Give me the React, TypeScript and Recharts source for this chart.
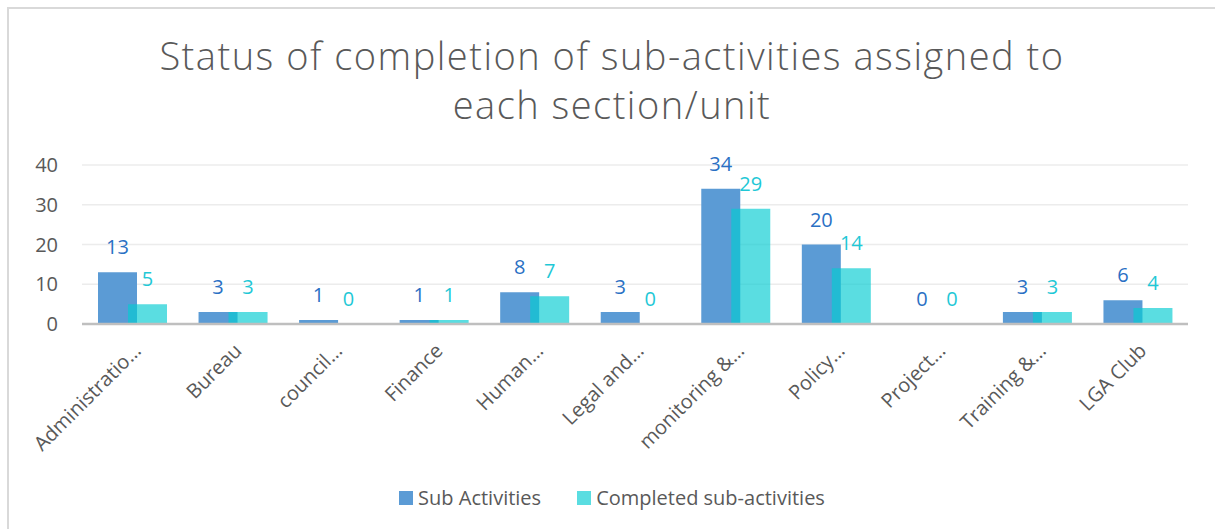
import React from "react";
import {
  BarChart,
  Bar,
  XAxis,
  YAxis,
  CartesianGrid,
  Legend,
  LabelList,
} from "recharts";

// Section names as they appear (Excel truncated the long ones)
const sections = [
  "Administratio…",
  "Bureau",
  "council…",
  "Finance",
  "Human…",
  "Legal and…",
  "monitoring &…",
  "Policy…",
  "Project…",
  "Training &…",
  "LGA Club",
];
const subActivities = [13, 3, 1, 1, 8, 3, 34, 20, 0, 3, 6];
const completed = [5, 3, 0, 1, 7, 0, 29, 14, 0, 3, 4];
const yTicks = [0, 10, 20, 30, 40];

const FONT = "'Open Sans', sans-serif";
const BLUE = "#5b9bd5";
const CYAN = "#05ccd2";
const TEXT = "#595959";

const chartData = sections.map((name, i) => ({
  name,
  sub: subActivities[i],
  done: completed[i],
}));

function LegendBox() {
  const items = [
    { label: "Sub Activities", color: BLUE, opacity: 1 },
    { label: "Completed sub-activities", color: CYAN, opacity: 0.66 },
  ];
  return (
    <div
      style={{
        display: "flex",
        justifyContent: "center",
        gap: 36,
        fontFamily: FONT,
        fontSize: 20,
        color: TEXT,
      }}
    >
      {items.map((it) => (
        <div key={it.label} style={{ display: "flex", alignItems: "center" }}>
          <span
            style={{
              display: "inline-block",
              width: 14,
              height: 14,
              background: it.color,
              opacity: it.opacity,
              marginRight: 5,
            }}
          />
          <span>{it.label}</span>
        </div>
      ))}
    </div>
  );
}

export default function App() {
  return (
    <div
      style={{
        position: "absolute",
        left: 0,
        top: 0,
        width: 1215,
        height: 529,
        background: "#fff",
        overflow: "hidden",
      }}
    >
      <div
        style={{
          position: "absolute",
          left: 7,
          top: 7,
          width: 1208,
          height: 522,
          borderLeft: "2px solid #d9d9d9",
          borderTop: "2px solid #d9d9d9",
          boxSizing: "border-box",
        }}
      />
      <div
        style={{
          position: "absolute",
          left: 0,
          top: 31,
          width: 1224,
          textAlign: "center",
          fontFamily: FONT,
          fontWeight: 300,
          fontSize: 38,
          letterSpacing: 1.5,
          lineHeight: "49px",
          color: TEXT,
        }}
      >
        Status of completion of sub-activities assigned to
        <br />
        each section/unit
      </div>
      <BarChart
        width={1215}
        height={529}
        data={chartData}
        margin={{ top: 165, right: 27, left: 32, bottom: 0 }}
        barSize={39}
        barGap={-9}
        style={{ position: "absolute", left: 0, top: 0 }}
      >
        <CartesianGrid
          vertical={false}
          stroke="#ececec"
          strokeWidth={1.5}
        />
        <XAxis
          dataKey="name"
          interval={0}
          angle={-45}
          textAnchor="end"
          tickLine={false}
          tickMargin={12}
          axisLine={{ stroke: "#bfbfbf", strokeWidth: 2.5 }}
          tick={{ fill: TEXT, fontSize: 20, fontFamily: FONT }}
          height={178}
        />
        <YAxis
          domain={[0, 40]}
          ticks={yTicks}
          width={50}
          axisLine={false}
          tickLine={false}
          tickMargin={18}
          tick={{ fill: TEXT, fontSize: 20, fontFamily: FONT }}
        />
        <Legend
          verticalAlign="bottom"
          wrapperStyle={{ top: 484, left: 0, width: 1224 }}
          content={() => <LegendBox />}
        />
        <Bar
          dataKey="sub"
          fill={BLUE}
          minPointSize={0.5}
          isAnimationActive={false}
        >
          <LabelList
            dataKey="sub"
            position="top"
            offset={18}
            fill="#2a70c4"
            fontSize={20}
            fontFamily={FONT}
          />
        </Bar>
        <Bar
          dataKey="done"
          fill={CYAN}
          fillOpacity={0.66}
          minPointSize={0.5}
          isAnimationActive={false}
        >
          <LabelList
            dataKey="done"
            position="top"
            offset={18}
            fill="#1fc8d6"
            fontSize={20}
            fontFamily={FONT}
          />
        </Bar>
      </BarChart>
    </div>
  );
}
